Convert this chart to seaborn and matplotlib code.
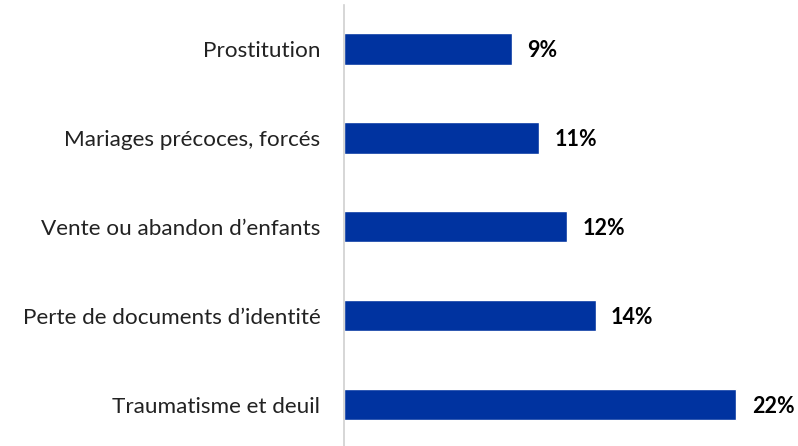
import pandas as pd
import matplotlib.pyplot as plt
import seaborn as sns

# data
categories = ["Prostitution", "Mariages précoces, forcés", "Vente ou abandon d\u2019enfants",
              "Perte de documents d\u2019identité", "Traumatisme et deuil"]
values = [9.4, 10.95, 12.5, 14.1, 22.0]
labels = ["9%", "11%", "12%", "14%", "22%"]

df = pd.DataFrame({"cat": categories, "val": values})

sns.set_style("white")
plt.rcParams['font.family'] = ['Lato', 'DejaVu Sans']

fig = plt.figure(figsize=(7.98, 4.46), dpi=100)
ax = fig.add_axes([344 / 798, -3 / 446, 446 / 798, 444.4 / 446])
sns.barplot(data=df, x="val", y="cat", orient="h", color="#0033A0",
            width=0.353, saturation=1, ax=ax)

for i, (v, lab) in enumerate(zip(values, labels)):
    ax.text(v + 0.85, i + 0.02, lab, va="center", ha="left", fontsize=15.5,
            fontweight="bold", color="black")

ax.set_xlim(0, 25)
ax.set_ylim(4.5, -0.5)
ax.set_xlabel("")
ax.set_ylabel("")
ax.set_xticks([])
ax.tick_params(axis="y", length=0, pad=17, labelsize=16.2, labelcolor="#222222")
for s in ["top", "right", "bottom"]:
    ax.spines[s].set_visible(False)
ax.spines["left"].set_color("#d0d0d0")
ax.spines["left"].set_linewidth(1.2)

fig.savefig("out.png", dpi=100)
